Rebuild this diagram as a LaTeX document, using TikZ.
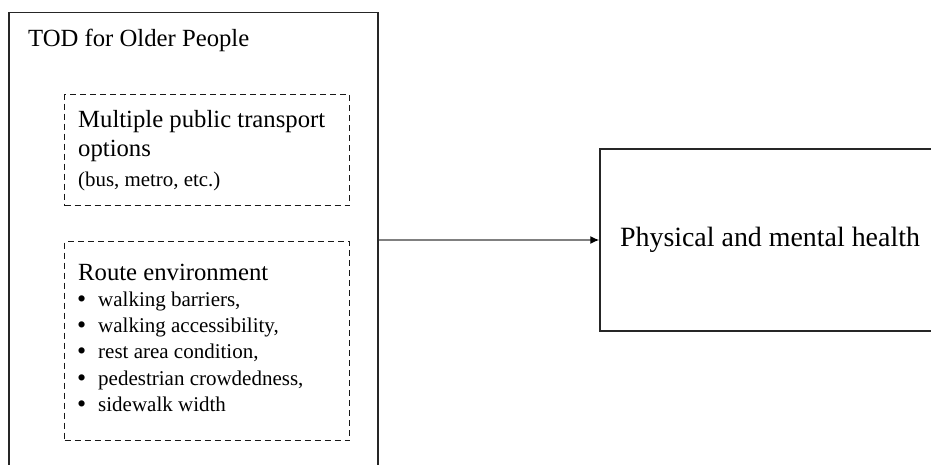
\documentclass[tikz,border=0pt]{standalone}
\usepackage{fontspec}
\setmainfont{Liberation Serif}
\usetikzlibrary{arrows.meta}
\begin{document}
\begin{tikzpicture}[x=1pt,y=-1pt,
  frame/.style={draw=black!85, line width=1.5pt, inner sep=0pt},
  dashbox/.style={draw=black!90, dash pattern=on 6pt off 4pt, line width=1.4pt, inner sep=0pt},
  txt/.style={anchor=base west, inner sep=0pt, font=\fontsize{24.7}{29}\selectfont},
  small/.style={anchor=base west, inner sep=0pt, font=\fontsize{21}{26}\selectfont}]
\useasboundingbox (0,0) rectangle (931,465);
\node[frame, anchor=north west, minimum width=369pt, minimum height=480pt] (tod) at (8,12) {};
\node[txt] (title) at (28,47) {TOD for Older People};
% public transport
\node[dashbox, anchor=north west, minimum width=285pt, minimum height=111pt] (options) at (64,94) {};
\node[txt] (opt1) at (78,128) {Multiple public transport};
\node[txt] (opt2) at (78,157) {options};
\node[small, font=\fontsize{20.9}{25}\selectfont] (opt3) at (78,187) {(bus, metro, etc.)};
% route environment
\node[dashbox, anchor=north west, minimum width=285pt, minimum height=199pt] (route) at (64,241) {};
\node[txt] (routetitle) at (78,280) {Route environment};
\foreach \lbl [count=\i] in {{walking barriers,},{walking accessibility,},{rest area condition,},{pedestrian crowdedness,},{sidewalk width}}{
  \node[small, font=\fontsize{26}{26}\selectfont] (dot\i) at (77,{281+26.3*\i}) {•};
  \node[small] (item\i) at (98,{280+26.3*\i}) {\lbl};
}
% outcome
\node[frame, minimum width=340pt, minimum height=182pt, font=\fontsize{27.9}{33}\selectfont] (health) at (770,240) {Physical and mental health};
\draw[black!50, line width=1.4pt, -{Latex[length=9pt,width=8pt,black]}] (tod.east |- health.west) -- (health.west);
\end{tikzpicture}
\end{document}
